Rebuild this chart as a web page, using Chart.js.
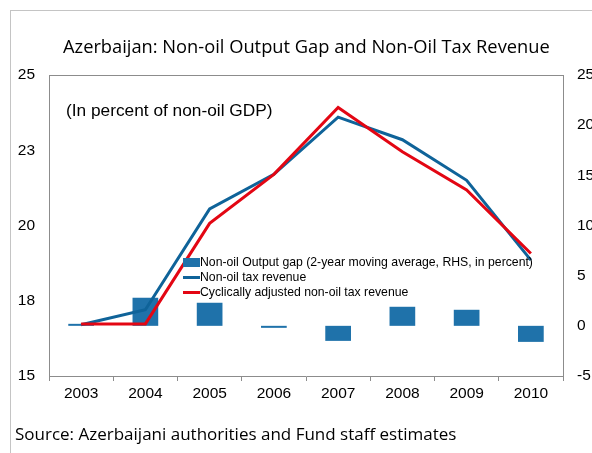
<!DOCTYPE html>
<html>
<head>
<meta charset="utf-8">
<script src="https://cdn.jsdelivr.net/npm/chart.js@4.4.1/dist/chart.umd.min.js"></script>
<style>
    html, body { margin: 0; padding: 0; background: #fff; }
    #wrap { position: relative; width: 592px; height: 453px; overflow: hidden; font-family: Arial, "Liberation Sans", sans-serif; color: #000; }
    #frame { position: absolute; left: 10px; top: 10px; width: 700px; height: 600px; border-left: 1px solid #c4c4c4; border-top: 1px solid #c4c4c4; }
    #chart { position: absolute; left: 0; top: 0; }
    .title { position: absolute; left: 63px; top: 33px; white-space: nowrap; font-family: "Open Sans", sans-serif; font-size: 18.3px; line-height: 26px; }
    .note { position: absolute; left: 66px; top: 99px; white-space: nowrap; font-size: 17.3px; line-height: 22px; }
    .source { position: absolute; left: 15px; top: 422px; white-space: nowrap; font-family: "Open Sans", sans-serif; font-size: 17px; line-height: 24px; }
    .legend { position: absolute; left: 183px; top: 255px; font-size: 12.25px; line-height: 15px; }
    .legend div { position: relative; padding-left: 17px; white-space: nowrap; }
    .legend span { position: absolute; left: 0; }
    .sw-bar { top: 3px; width: 17px; height: 9px; background: #1f72aa; }
    .sw-blue { top: 6px; width: 17px; height: 3px; background: #0f6399; }
    .sw-red { top: 6px; width: 17px; height: 3px; background: #e30613; }
</style>
</head>
<body>
<div id="wrap">
    <div id="frame"></div>
    <canvas id="chart" width="592" height="453"></canvas>
    <div class="title">Azerbaijan: Non-oil Output Gap and Non-Oil Tax Revenue</div>
    <div class="note">(In percent of non-oil GDP)</div>
    <div class="legend">
        <div><span class="sw-bar"></span>Non-oil Output gap (2-year moving average, RHS, in percent)</div>
        <div><span class="sw-blue"></span>Non-oil tax revenue</div>
        <div><span class="sw-red"></span>Cyclically adjusted non-oil tax revenue</div>
    </div>
    <div class="source">Source: Azerbaijani authorities and Fund staff estimates</div>
</div>
<script>
// البيانات
const years = ['2003', '2004', '2005', '2006', '2007', '2008', '2009', '2010'];
const outputGap = [0.15, 2.8, 2.3, -0.2, -1.5, 1.9, 1.6, -1.6];
const taxRevenue = [16.7, 17.2, 20.55, 21.7, 23.6, 22.85, 21.5, 18.85];
const adjustedRevenue = [16.73, 16.73, 20.07, 21.7, 23.92, 22.45, 21.18, 19.07];
const leftTicks = [15, 17.5, 20, 22.5, 25];
const leftTickLabels = ['15', '18', '20', '23', '25'];
const rightTicks = [-5, 0, 5, 10, 15, 20, 25];
const rightTickLabels = ['-5', '0', '5', '10', '15', '20', '25'];

const tickFont = { family: 'Arial', size: 15.5 };

// خط أعلى منطقة الرسم
const plotBorder = {
    id: 'plotBorder',
    afterDraw(chart) {
        const a = chart.chartArea;
        const c = chart.ctx;
        c.save();
        c.strokeStyle = '#8c8c8c';
        c.lineWidth = 1;
        c.beginPath();
        c.moveTo(a.left, a.top + 0.5);
        c.lineTo(a.right, a.top + 0.5);
        c.stroke();
        c.restore();
    }
};

new Chart(document.getElementById('chart'), {
    type: 'bar',
    data: {
        labels: years,
        datasets: [
            {
                type: 'line',
                label: 'Non-oil tax revenue',
                data: taxRevenue,
                yAxisID: 'y',
                borderColor: '#0f6399',
                borderWidth: 3,
                pointRadius: 0,
                tension: 0,
                order: 1
            },
            {
                type: 'line',
                label: 'Cyclically adjusted non-oil tax revenue',
                data: adjustedRevenue,
                yAxisID: 'y',
                borderColor: '#e30613',
                borderWidth: 3,
                pointRadius: 0,
                tension: 0,
                order: 0
            },
            {
                type: 'bar',
                label: 'Non-oil Output gap (2-year moving average, RHS, in percent)',
                data: outputGap,
                yAxisID: 'y1',
                backgroundColor: '#1f72aa',
                borderWidth: 0,
                barPercentage: 0.4,
                categoryPercentage: 1,
                minBarLength: 2,
                order: 2
            }
        ]
    },
    options: {
        responsive: false,
        animation: false,
        layout: { padding: { top: 75, left: 0, right: 0, bottom: 47 } },
        plugins: {
            legend: { display: false },
            tooltip: { enabled: false }
        },
        scales: {
            x: {
                offset: true,
                grid: {
                    offset: true,
                    drawOnChartArea: false,
                    drawTicks: true,
                    tickLength: 5,
                    color: '#8c8c8c'
                },
                border: { color: '#8c8c8c' },
                ticks: { font: tickFont, color: '#000', padding: 3, maxRotation: 0 },
                afterFit: scale => { scale.height = 30; }
            },
            y: {
                position: 'left',
                min: 15,
                max: 25,
                grid: { display: false, drawTicks: false },
                border: { color: '#8c8c8c' },
                afterBuildTicks: scale => { scale.ticks = leftTicks.map(v => ({ value: v })); },
                ticks: {
                    font: tickFont,
                    color: '#000',
                    padding: 14,
                    callback: (value, index) => leftTickLabels[index]
                },
                afterFit: scale => { scale.width = 49; }
            },
            y1: {
                position: 'right',
                min: -5,
                max: 25,
                grid: { display: false, drawTicks: false },
                border: { color: '#8c8c8c' },
                afterBuildTicks: scale => { scale.ticks = rightTicks.map(v => ({ value: v })); },
                ticks: {
                    font: tickFont,
                    color: '#000',
                    padding: 14,
                    callback: (value, index) => rightTickLabels[index]
                },
                afterFit: scale => { scale.width = 29; }
            }
        }
    },
    plugins: [plotBorder]
});
</script>
</body>
</html>
